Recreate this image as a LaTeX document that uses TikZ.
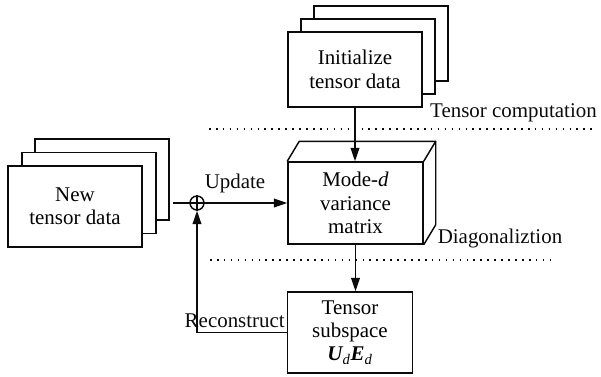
\documentclass[tikz,border=0pt]{standalone}
\usepackage{fontspec}
\setmainfont{LiberationSerif}[Extension=.ttf,UprightFont=*-Regular,BoldFont=*-Bold,ItalicFont=*-Italic,BoldItalicFont=*-BoldItalic]
\usepackage{tikz}
\usetikzlibrary{arrows.meta,calc,positioning}
\definecolor{tinta}{HTML}{0B0B0B}
\tikzset{
  caja/.style={rectangle,draw=tinta,fill=white,line width=1.1pt,inner sep=0pt,align=center,font=\rmfamily\fontsize{15.7}{17.5}\selectfont},
  pila/.style={caja,minimum width=100.5pt},
  linea/.style={draw=tinta,line width=1.1pt},
  flecha/.style={linea,-{Triangle[length=10pt,width=6.5pt]}},
  puntos/.style={draw=tinta,line width=1.5pt,dash pattern=on 1.2pt off 4pt},
  etiqueta/.style={font=\rmfamily\fontsize{15.7}{17.5}\selectfont,text=tinta,inner sep=0pt},
  suma/.style={circle,draw=tinta,fill=white,line width=1.1pt,inner sep=0pt,minimum size=10.5pt},
}
\begin{document}
\begin{tikzpicture}[x=0.75pt,y=-0.75pt]
  \useasboundingbox (0,0) rectangle (601,376);
  % new tensor data, stacked
  \node[pila,minimum height=60.75pt] (newback) at (102,179.5) {};
  \node[pila,minimum height=60.75pt] (newmid) at (89,193) {};
  \node[pila,minimum height=60.75pt] (newfront) at (75,206.5) {New\\tensor data};
  % initialize, stacked
  \node[pila,minimum height=56.25pt] (initback) at (381,43.5) {};
  \node[pila,minimum height=56.25pt] (initmid) at (368,56.5) {};
  \node[pila,minimum height=56.25pt] (init) at (355,69.5) {Initialize\\tensor data};
  % variance matrix as a box
  \node[caja,minimum width=101.25pt,minimum height=61.5pt] (cube) at (355.5,203) {Mode-\textit{d}\\variance\\matrix};
  \draw[linea,line join=round] (cube.north west) -- ++(12,-20) -- ($(cube.north east)+(12,-20)$)
    -- ($(cube.south east)+(12,-20)$) -- (cube.south east);
  \draw[linea] (cube.north east) -- ++(12,-20);
  % subspace
  \node[caja,minimum width=93.75pt,minimum height=60.75pt] (tss) at (350,332.5)
    {Tensor\\subspace\\{\bfseries\itshape U}\textsubscript{\itshape d}{\bfseries\itshape E}\textsubscript{\itshape d}};
  % summing point
  \node[suma] (sum) at (197,203) {};
  \draw[linea] (sum.north) -- (sum.south) (sum.west) -- (sum.east);
  \coordinate (feed) at (173,203);
  \draw[linea] (feed) -- (sum.west);
  \draw[flecha] (sum.east) -- (cube.west);
  \draw[flecha] (init.south) -- (init.south |- cube.north);
  \draw[flecha] (cube.south) -- (cube.south |- tss.north);
  \draw[flecha] (tss.west) -| (sum.south);
  % stage separators
  \draw[puntos] (209,129) -- (596,129);
  \draw[puntos] (210,260) -- (556,260);
  \node[etiqueta] (upd) at (235,183) {Update};
  \node[etiqueta,anchor=east] (rec) at (285,321) {Reconstruct};
  \node[etiqueta] (tc) at (513.5,113) {Tensor computation};
  \node[etiqueta] (dg) at (500,238) {Diagonaliztion};
\end{tikzpicture}
\end{document}
